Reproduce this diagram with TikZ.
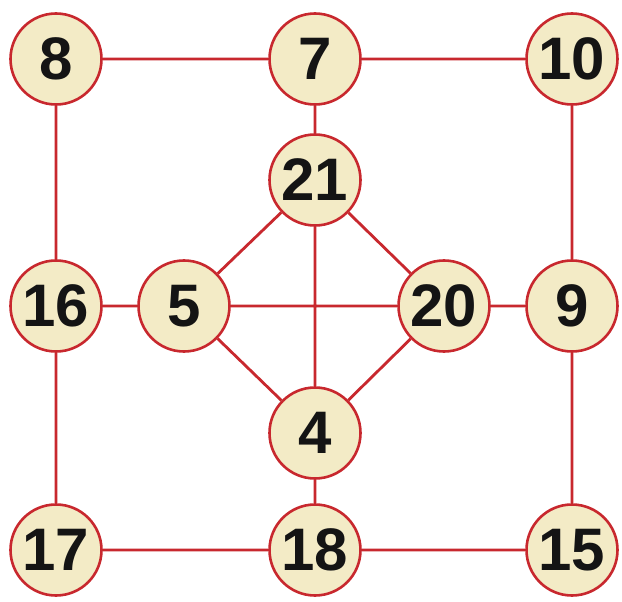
\documentclass[tikz,border=0pt]{standalone}
\usepackage{fontspec}
\setmainfont{Liberation Sans}
\begin{document}
\begin{tikzpicture}[x=1pt,y=-1pt,
  num/.style={circle,draw=edgered,line width=2.6pt,fill=creamfill,minimum size=91pt,inner sep=0pt,font=\fontsize{60}{60}\selectfont\bfseries,text=black!92},
  link/.style={draw=edgered,line width=2.8pt}]
\definecolor{edgered}{HTML}{C8282E}
\definecolor{creamfill}{HTML}{F3EBC6}
\useasboundingbox[fill=white] (0,0) rectangle (622,602);
\node[num] (n8) at (56,59) {8};
\node[num] (n7) at (315,59) {7};
\node[num] (n10) at (572,59) {10};
\node[num] (n21) at (315,180) {21};
\node[num] (n16) at (56,306) {16};
\node[num] (n5) at (184,306) {5};
\node[num] (n20) at (444,306) {20};
\node[num] (n9) at (572,306) {9};
\node[num] (n4) at (315,433) {4};
\node[num] (n17) at (56,550) {17};
\node[num] (n18) at (315,550) {18};
\node[num] (n15) at (572,550) {15};
\path[link] (n8) -- (n7) (n7) -- (n10) (n8) -- (n16) (n16) -- (n17)
  (n17) -- (n18) (n18) -- (n15) (n10) -- (n9) (n9) -- (n15)
  (n7) -- (n21) (n21) -- (n4) (n4) -- (n18)
  (n16) -- (n5) (n5) -- (n20) (n20) -- (n9)
  (n21) -- (n5) (n21) -- (n20) (n5) -- (n4) (n4) -- (n20);
\end{tikzpicture}
\end{document}
